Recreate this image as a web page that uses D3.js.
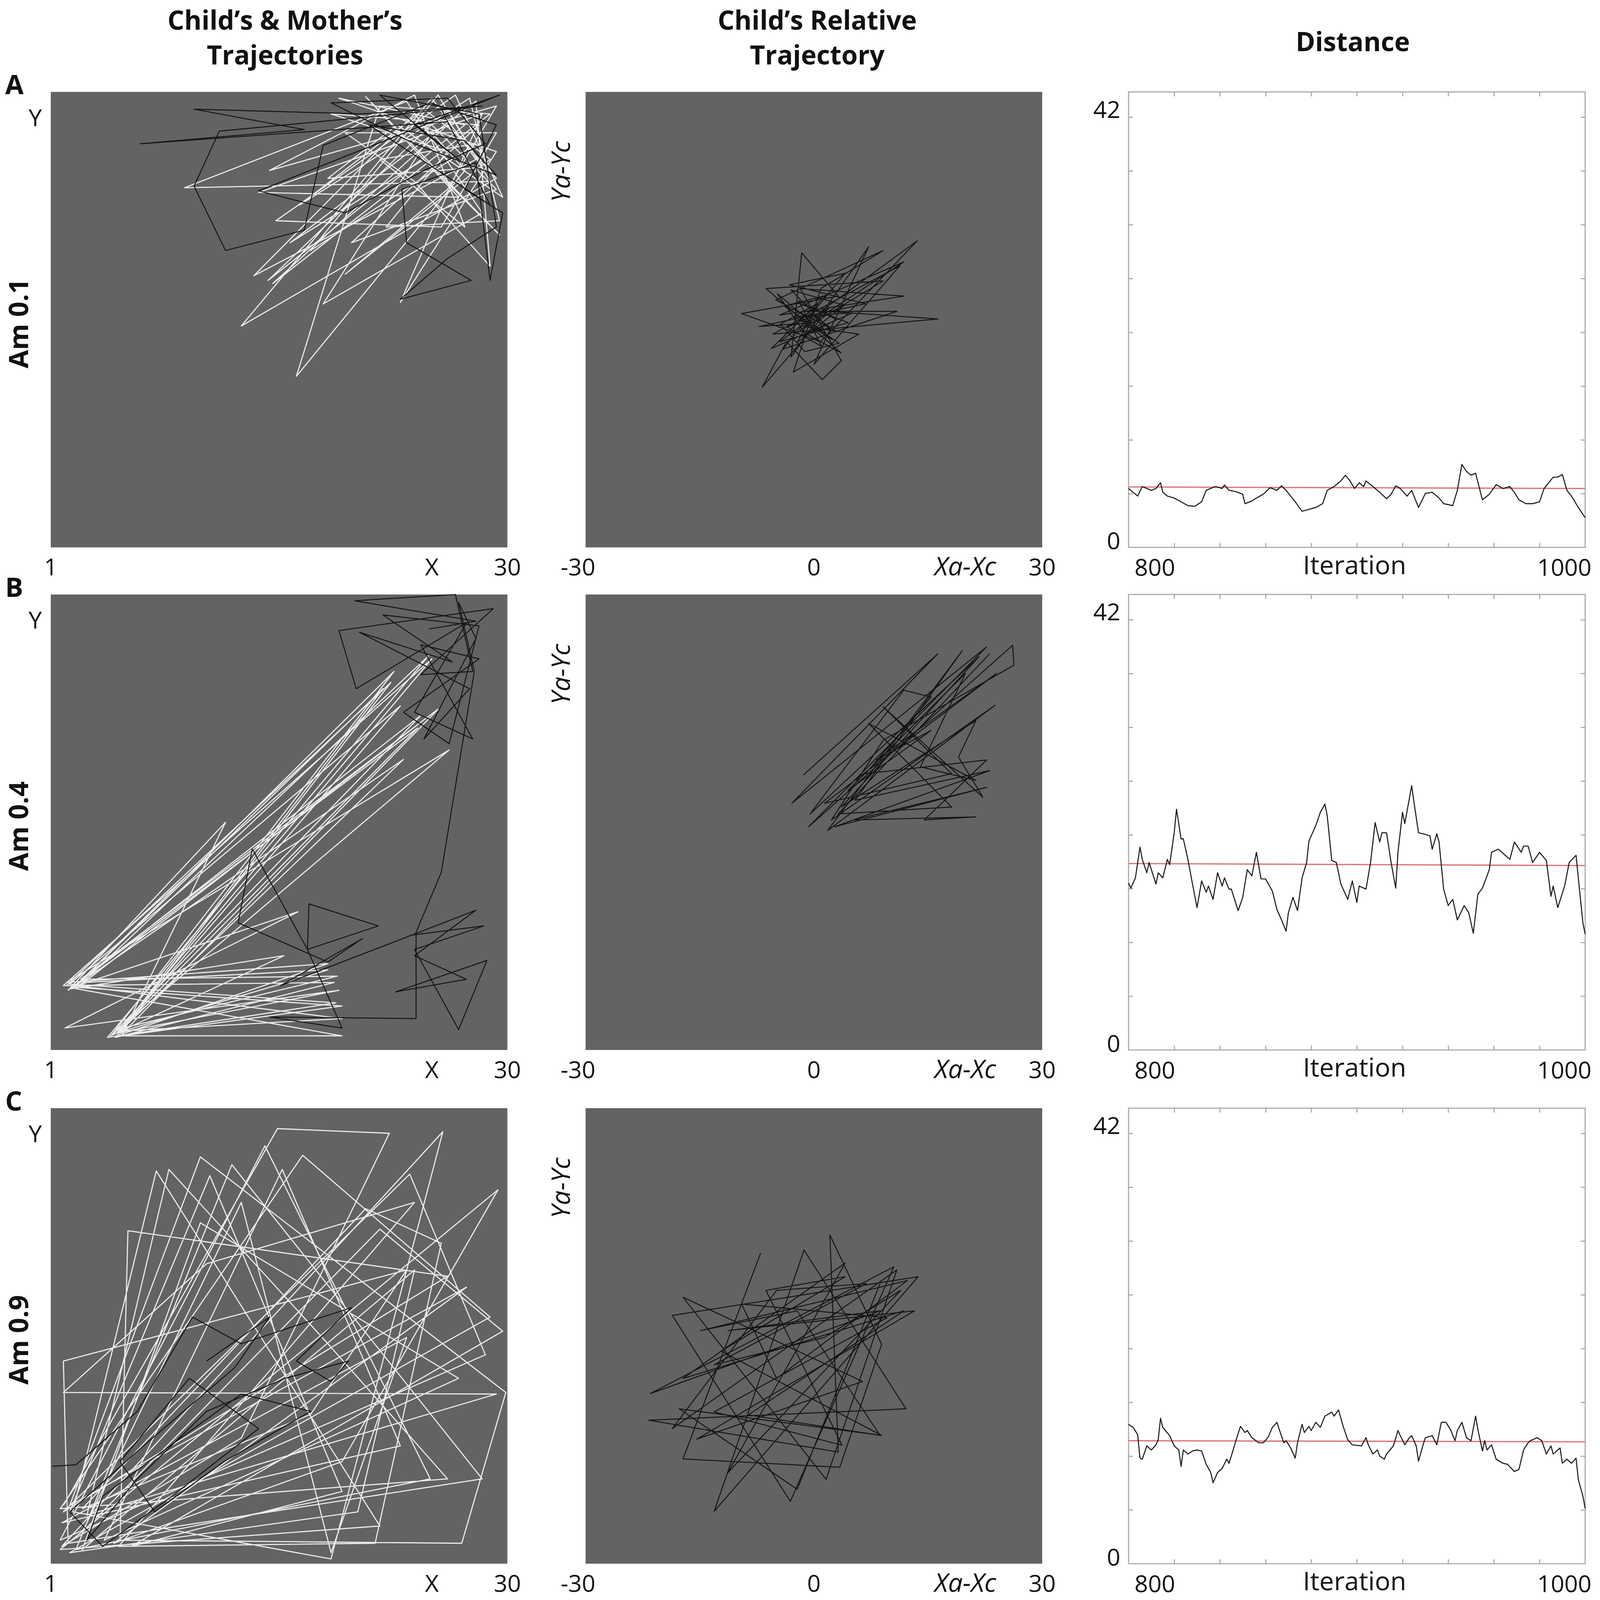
<!DOCTYPE html>
<html>
<head>
<meta charset="utf-8">
<script src="https://cdn.jsdelivr.net/npm/d3@7"></script>
<style>
  html, body { margin: 0; padding: 0; background: #fff; overflow: hidden; }
  svg { display: block; }
  text { font-family: "Open Sans", "DejaVu Sans", sans-serif; }
</style>
</head>
<body>
<svg id="fig"></svg>
<script>
// ---- labels ----
var colTitles = [["Child\u2019s & Mother\u2019s", "Trajectories"], ["Child\u2019s Relative", "Trajectory"], ["Distance"]];
var rowLetters = ["A", "B", "C"];
var amLabels = ["Am 0.1", "Am 0.4", "Am 0.9"];
var absTicks = [{v: 1, t: "1"}, {v: 25.2, t: "X"}, {v: 30, t: "30"}];
var relTicks = [{v: -31, t: "-30"}, {v: 0, t: "0"}, {v: 19.9, t: "Xa-Xc", it: true}, {v: 30, t: "30"}];
var distYTicks = [{v: 42, t: "42"}, {v: 0, t: "0"}];

// ---- mother (white) and child (black) trajectories, X/Y in 1..30 ----
var motherA = [[24.1,28.6],[13.9,18.3],[28.0,25.7],[25.2,29.6],[13.1,15.1],[29.3,24.5],[26.2,27.9],[15.1,17.8],[28.9,28.6],[21.9,29.1],[16.6,11.9],[27.3,25.0],[25.2,27.4],[18.3,16.5],[28.4,22.3],[23.6,29.4],[9.5,23.9],[28.9,24.3],[26.2,28.9],[14.8,18.0],[27.3,27.9],[19.3,29.6],[29.3,26.2],[23.2,16.6],[28.4,28.6],[14.2,23.6],[26.9,23.3],[21.0,29.7],[29.5,20.9],[24.7,25.7],[16.2,20.4],[28.0,29.4],[28.9,18.9],[24.1,24.3],[19.7,27.4],[29.3,27.4],[25.8,21.4],[15.3,21.8],[26.7,29.8],[29.7,23.3],[23.0,27.9],[18.6,24.5],[28.4,25.2],[25.6,29.8],[17.5,19.9],[28.0,26.7],[21.9,25.7],[27.3,21.4],[24.1,29.8],[14.9,25.0],[29.3,29.1],[26.2,23.8],[19.7,18.4],[28.9,25.7],[24.7,28.9],[16.8,22.8],[27.6,29.6],[29.5,21.8],[22.3,21.4],[26.2,26.2],[18.8,28.6],[28.2,27.9],[20.1,20.4],[29.3,23.8],[25.2,27.9]];
var childA = [[26.2,28.1],[6.7,26.7],[17.1,27.6],[10.1,28.9],[20.8,28.6],[28.4,29.1],[11.7,27.5],[10.1,24.0],[12.1,19.9],[17.1,21.2],[18.3,26.6],[25.1,29.3],[29.3,27.9],[27.3,23.8],[29.7,22.3],[28.9,18.0],[28.0,25.5],[23.3,23.8],[23.6,20.4],[27.7,18.0],[23.2,16.8],[26.2,19.4],[29.3,21.4],[28.2,28.6],[21.9,29.8],[26.9,25.7],[24.1,27.9],[29.5,29.8],[14.2,23.7],[19.7,22.3],[24.7,25.0],[28.6,26.7],[26.2,29.6],[18.8,29.3],[24.1,26.7],[29.3,24.7],[27.3,26.9],[21.2,27.9],[28.9,22.8],[25.8,28.9]];

var motherB = [[2.0,5.1],[22.6,24.4],[5.3,1.9],[19.5,1.9],[2.6,4.9],[25.0,26.1],[4.6,1.8],[19.1,4.0],[2.2,5.2],[23.2,22.9],[5.3,2.1],[19.3,4.8],[1.9,2.4],[16.7,9.8],[2.4,5.0],[24.5,22.3],[5.2,2.3],[19.2,5.7],[2.9,5.5],[25.6,22.7],[5.5,2.0],[18.6,6.5],[2.0,5.3],[26.3,20.1],[4.8,1.9],[15.8,7.0],[2.3,4.9],[23.4,19.5],[5.4,2.2],[19.5,3.0],[2.6,5.1],[22.1,24.0],[5.1,1.8],[19.0,5.3],[1.8,5.1],[25.2,25.9],[5.2,2.1],[24.3,21.5],[2.1,4.8],[12.1,15.5],[5.5,1.9],[19.5,3.8],[2.5,5.0],[22.8,25.1],[4.9,2.0],[18.6,6.1],[3.1,5.3],[24.8,22.1]];
var childB = [[25.0,27.8],[28.0,28.3],[20.3,29.6],[26.7,30.0],[27.8,25.1],[24.5,24.9],[29.1,29.1],[19.3,27.7],[20.4,24.0],[27.4,28.2],[24.1,22.5],[27.8,20.8],[24.5,26.8],[28.2,25.9],[23.4,22.5],[26.3,20.5],[28.2,28.0],[22.1,28.7],[26.5,25.7],[20.6,27.6],[27.6,24.0],[24.7,20.8],[28.0,27.2],[26.9,29.5],[27.9,25.1],[25.8,12.3],[24.2,8.5],[24.2,3.0],[14.9,3.1],[19.5,2.4],[17.3,7.4],[17.4,10.3],[21.8,8.9],[17.3,7.4],[13.8,13.8],[12.9,9.1],[18.6,6.6],[20.8,8.1],[15.6,5.1],[23.9,8.3],[28.0,9.9],[24.1,7.0],[27.4,5.5],[22.9,4.7],[28.7,6.7],[26.9,2.3],[24.1,7.4],[28.5,8.9],[23.8,8.3]];

var motherC = [[1.8,4.7],[15.4,28.7],[22.5,28.4],[13.1,9.0],[1.7,2.1],[25.9,28.5],[18.8,1.3],[2.4,4.3],[7.7,26.0],[21.9,3.4],[1.6,1.9],[29.4,24.8],[19.5,7.5],[5.0,2.3],[27.4,18.6],[2.2,4.7],[10.5,26.9],[29.9,11.9],[27.1,2.3],[5.4,2.5],[5.9,22.2],[26.2,19.3],[1.8,4.3],[23.8,25.8],[28.6,14.3],[1.6,2.5],[14.6,27.6],[25.1,6.4],[2.6,1.9],[12.5,26.4],[28.4,6.4],[2.1,2.3],[1.8,13.9],[23.6,19.7],[17.5,10.5],[3.0,4.5],[21.0,23.6],[25.8,21.4],[21.6,2.3],[5.3,2.1],[24.1,24.0],[10.9,20.1],[1.8,11.9],[29.3,11.8],[3.3,4.1],[8.5,26.1],[18.6,15.0],[26.2,6.4],[1.6,4.5],[17.0,27.0],[28.9,16.7],[2.2,1.7],[20.5,4.3],[24.1,19.7],[3.0,1.9],[10.5,22.7],[26.9,12.8],[4.4,2.5],[15.7,26.1],[23.2,8.5],[1.7,3.6],[23.6,15.4],[18.8,1.7],[13.1,24.0],[3.0,3.0],[21.9,22.3],[29.7,15.8],[6.1,2.1],[19.5,5.6],[11.1,25.7],[2.2,4.3]];
var childC = [[1.1,7.2],[2.6,7.3],[6.5,10.7],[10.0,16.7],[13.1,15.0],[17.0,16.3],[20.1,17.3],[16.6,13.9],[18.8,12.6],[19.9,13.9],[15.9,12.8],[10.9,10.7],[6.5,6.4],[3.3,2.5],[4.3,5.3],[8.7,8.6],[13.1,11.8],[17.5,10.7],[12.0,7.5],[7.6,4.3],[5.4,7.5],[9.8,12.8],[14.2,9.6],[8.7,5.3],[4.3,2.1],[2.2,4.3],[7.0,8.6],[12.7,13.5],[14.9,16.7],[10.9,13.9]];

// ---- child relative trajectories, Xa-Xc / Ya-Yc in -30..30 ----
var relA = [[-1.8,2.1],[4.5,-0.4],[-4.5,-2.9],[13.6,10.4],[0.9,-2.9],[-9.5,0.8],[3.2,3.1],[-1.6,8.8],[-3.0,-4.9],[7.2,9.6],[0,-5.9],[11.3,7.1],[-5.4,-1.9],[16.3,0.1],[1.8,1.1],[-6.8,-8.9],[-3.6,-2.9],[1.1,-7.9],[3.6,-5.4],[-1.8,4.1],[11.8,3.1],[-4.5,0.6],[11.8,7.6],[-1.8,-1.4],[3.6,-4.4],[-6.3,4.1],[9.1,5.1],[0,-0.4],[-7.2,-0.9],[6.8,2.1],[-3.2,4.6],[4.1,6.1],[-4.1,-3.9],[10.9,1.1],[-0.9,1.1],[2.7,-1.4],[-5.0,2.6],[9.1,9.1],[0.9,4.1],[-2.7,-6.9],[5.9,-1.9],[-1.4,-0.9],[2.0,1.5],[-3.5,-1.0],[1.0,-3.5],[-2.0,2.5],[3.0,0.0],[-1.0,-2.0],[-4.8,3.4],[2.4,-2.6],[-2.6,0.4],[5.1,0.9],[-5.6,-3.8],[1.6,3.2],[-3.9,1.8],[3.3,-3.1],[-1.2,-4.2],[-4.4,-0.6],[0.6,2.2],[-2.2,-3.0],[4.0,1.9],[-3.0,3.9],[1.8,-1.0]];
var relB = [[-1.4,6.2],[16.3,22.2],[-2.9,2.5],[22.7,23.1],[-0.7,-0.6],[26.1,23.3],[26.3,20.7],[9.1,10.8],[2.3,0.3],[23.8,15.4],[1.8,-1.1],[19.5,22.6],[5.4,2.9],[23.1,6.8],[2.7,-0.6],[22.7,4.6],[5.2,0.3],[21.3,0.7],[14.5,0.3],[22.7,8.2],[6.8,6.4],[15.4,16.5],[11.8,17.4],[-0.5,1.1],[21.7,21.8],[3.6,2.0],[21.3,13.4],[19.0,8.6],[22.2,3.3],[9.1,15.2],[18.1,6.4],[1.4,2.5],[24.0,19.6],[8.2,8.2],[15.4,12.1],[4.5,4.2],[19.9,19.6],[14.0,7.3],[21.3,5.5],[7.2,13.0],[18.1,2.0],[3.2,1.1],[23.1,22.2]];
var relC = [[-7.0,10.9],[-17.2,-16.2],[3.4,-17.3],[8.9,-1.1],[2.1,13.3],[3.2,-15.3],[-21.7,-11.1],[12.1,-9.6],[-1.3,11.3],[-13.1,-23.1],[13.7,7.8],[-18.6,2.7],[-3.1,-21.8],[10.5,9.1],[-21.5,-7.6],[8.7,3.3],[-11.3,0.7],[13.2,3.3],[-15.4,-13.6],[6.4,-6.0],[-17.2,5.1],[1.6,-18.9],[10.9,8.7],[-18.6,-12.2],[-4.9,6.0],[6.9,6.9],[-13.1,-3.8],[1.4,-0.2],[11.4,6.0],[-11.3,-18.0],[4.1,9.6],[-17.2,-5.6],[11.8,3.3],[-8.6,-10.4],[8.7,-13.1],[-2.2,3.3],[-14.9,0.7],[12.3,7.3],[-4.9,-5.6],[-9.5,4.2],[9.6,2.4],[-13.1,-10.0],[3.7,-14.4],[-6.3,6.0],[4.1,7.8],[-12.2,-2.0],[8.9,-13.1],[-17.7,-9.6],[-2.2,-20.2],[8.7,6.9]];

// ---- distance over iterations 800..1000 ----
var distA = [[800,5.75],[802,5.38],[804,5.01],[806,5.94],[808,5.75],[810,5.57],[812,5.75],[814,6.31],[815,5.38],[817,5.01],[820,4.82],[823,4.45],[826,4.08],[829,4.01],[832,4.45],[834,5.57],[838,5.94],[841,5.75],[842,6.09],[844,5.57],[847,5.45],[850,5.19],[851,4.27],[854,4.53],[856,4.82],[859,5.19],[862,5.83],[865,5.57],[867,6.01],[869,5.57],[873,4.45],[876,3.53],[879,3.71],[882,3.90],[885,4.27],[887,5.57],[890,5.94],[893,6.49],[895,7.05],[897,6.49],[899,5.75],[901,6.31],[903,5.94],[904,6.49],[907,5.94],[910,5.38],[913,4.75],[915,5.19],[917,6.01],[919,5.75],[922,5.01],[924,5.57],[927,3.90],[930,5.27],[933,5.38],[936,4.82],[938,4.27],[942,4.08],[944,5.57],[946,8.09],[948,7.42],[950,7.05],[952,7.24],[955,4.64],[958,5.19],[961,6.12],[964,5.75],[967,5.94],[969,5.38],[971,4.64],[974,4.27],[977,4.27],[980,4.45],[982,5.75],[986,6.86],[988,6.86],[990,7.12],[992,5.57],[994,5.01],[997,3.90],[1000,2.89]];
var distB = [[800,16.3],[801,15.8],[803,16.8],[805,19.8],[806,18.6],[808,17.3],[809,18.3],[812,16.2],[813,17.3],[815,16.8],[817,18.6],[818,18.1],[820,21.2],[821,23.5],[823,20.6],[824,20.6],[826,18.6],[828,16.2],[830,13.9],[832,16.5],[834,15.4],[835,16.0],[837,14.7],[839,17.3],[841,16.0],[842,16.8],[844,15.7],[845,15.7],[848,13.6],[850,14.9],[852,17.6],[854,17.0],[856,19.3],[858,16.7],[860,16.7],[863,15.5],[865,13.7],[867,12.7],[869,11.6],[870,13.4],[872,14.9],[874,13.6],[876,16.8],[878,18.3],[879,20.4],[882,21.9],[884,23.2],[886,24.0],[887,22.9],[889,18.5],[891,18.3],[893,16.2],[896,14.7],[898,16.5],[900,14.4],[901,16.0],[904,15.7],[906,18.3],[908,22.2],[910,20.3],[911,21.2],[913,21.2],[915,18.3],[917,15.8],[918,19.3],[920,23.2],[921,22.1],[924,25.8],[925,24.2],[927,21.2],[929,21.1],[932,20.9],[933,19.6],[935,21.1],[936,20.3],[938,15.7],[940,14.1],[942,14.7],[944,12.7],[947,14.1],[949,13.4],[951,11.4],[953,15.2],[955,15.8],[958,17.6],[959,19.3],[962,19.6],[965,19.0],[967,18.6],[969,20.3],[972,19.3],[973,19.9],[975,19.9],[977,18.3],[980,19.3],[983,18.5],[985,15.0],[986,16.0],[988,13.9],[991,16.0],[993,18.3],[996,19.0],[997,16.8],[999,12.4],[1000,11.3]];
var distC = [[800,13.6],[802,13.3],[804,12.6],[805,10.3],[806,10.2],[808,11.5],[810,11.1],[812,11.6],[813,12.1],[814,14.2],[815,13.3],[818,12.5],[820,11.5],[822,11.1],[823,9.5],[824,11.1],[826,10.7],[828,11.0],[830,11.1],[832,11.0],[834,9.7],[836,8.9],[837,7.9],[839,8.9],[841,9.3],[843,10.2],[844,9.8],[845,10.5],[847,12.0],[849,13.4],[851,12.8],[852,13.0],[854,12.3],[857,11.8],[859,11.8],[861,12.3],[863,13.3],[865,13.8],[866,13.1],[868,11.8],[869,12.0],[871,11.3],[873,10.3],[874,11.8],[876,13.6],[877,12.8],[879,13.4],[880,13.0],[882,13.8],[884,13.3],[886,14.4],[889,14.8],[890,14.4],[892,15.0],[894,13.4],[896,12.1],[898,11.6],[902,11.5],[904,12.3],[905,11.6],[907,10.7],[909,11.1],[910,10.5],[912,10.2],[913,10.7],[916,11.5],[918,13.0],[919,12.5],[921,11.6],[923,12.3],[924,12.5],[926,11.5],[927,10.0],[929,11.6],[930,12.3],[933,12.5],[935,11.6],[937,13.8],[939,13.8],[941,13.1],[943,12.0],[944,13.0],[946,13.8],[948,12.3],[950,12.0],[952,14.4],[953,13.1],[955,11.0],[956,12.0],[957,11.1],[959,11.6],[961,10.2],[964,9.8],[966,9.7],[969,9.0],[971,9.2],[973,11.1],[975,11.8],[976,12.0],[979,12.3],[981,12.0],[983,10.7],[985,11.5],[986,10.7],[989,11.3],[990,9.8],[992,10.2],[994,9.8],[996,10.3],[997,8.2],[999,6.6],[1000,5.4]];
var meanA = [[800,5.9],[1000,5.75]];
var meanB = [[800,18.2],[1000,18.0]];
var meanC = [[800,12.0],[1000,11.9]];

var rows = [
  {mother: motherA, child: childA, rel: relA, dist: distA, mean: meanA},
  {mother: motherB, child: childB, rel: relB, dist: distB, mean: meanB},
  {mother: motherC, child: childC, rel: relC, dist: distC, mean: meanC}
];

// ---- layout (in reference pixels, scaled to the window by the viewBox) ----
var W = 4317, H = 4317;
var rowTop = [248, 1604, 2990], panelH = 1229;
var colLeft = [137, 1580, 3045], panelW = 1232;
var panelGray = "#636363";

var svg = d3.select("#fig")
    .attr("viewBox", "0 0 " + W + " " + H)
    .attr("preserveAspectRatio", "xMinYMin meet")
    .style("width", "100vw")
    .style("height", "100vh");
svg.append("rect").attr("width", W).attr("height", H).attr("fill", "#fff");

// column titles
colTitles.forEach(function(lines, i){
  var cx = [769, 2205, 3650][i];
  var t = svg.append("text").attr("x", cx).attr("text-anchor", "middle")
    .attr("font-size", 71).attr("font-weight", "bold").attr("fill", "#111");
  if(lines.length == 2){
    t.append("tspan").attr("x", cx).attr("y", 80).text(lines[0]);
    t.append("tspan").attr("x", cx).attr("y", 174).text(lines[1]);
  }
  else
    t.attr("y", 138).text(lines[0]);
});

function trajline(x, y){
  return d3.line().x(function(d){ return x(d[0]); }).y(function(d){ return y(d[1]); });
}

function drawabs(r, d){
  var g = svg.append("g").attr("transform", "translate(" + colLeft[0] + "," + rowTop[r] + ")");
  var x = d3.scaleLinear().domain([1, 30]).range([0, panelW]);
  var y = d3.scaleLinear().domain([1, 30]).range([panelH, 0]);
  g.append("rect").attr("width", panelW).attr("height", panelH).attr("fill", panelGray);
  g.append("path").datum(d.mother).attr("d", trajline(x, y))
    .attr("fill", "none").attr("stroke", "#ececec").attr("stroke-width", 3).attr("stroke-linejoin", "round");
  g.append("path").datum(d.child).attr("d", trajline(x, y))
    .attr("fill", "none").attr("stroke", "#141414").attr("stroke-width", 2.6).attr("stroke-linejoin", "round");
  // axis labels
  absTicks.forEach(function(tk){
    g.append("text").attr("x", x(tk.v)).attr("y", panelH + 76).attr("text-anchor", "middle")
      .attr("font-size", 64).attr("fill", "#111").text(tk.t);
  });
  g.append("text").attr("x", 95 - colLeft[0]).attr("y", 92).attr("text-anchor", "middle")
    .attr("font-size", 64).attr("fill", "#111").text("Y");
}

function drawrel(r, d){
  var g = svg.append("g").attr("transform", "translate(" + colLeft[1] + "," + rowTop[r] + ")");
  var x = d3.scaleLinear().domain([-30, 30]).range([0, panelW]);
  var y = d3.scaleLinear().domain([-30, 30]).range([panelH, 0]);
  g.append("rect").attr("width", panelW).attr("height", panelH).attr("fill", panelGray);
  g.append("path").datum(d.rel).attr("d", trajline(x, y))
    .attr("fill", "none").attr("stroke", "#141414").attr("stroke-width", 2.6).attr("stroke-linejoin", "round");
  relTicks.forEach(function(tk){
    g.append("text").attr("x", x(tk.v)).attr("y", panelH + 76).attr("text-anchor", "middle")
      .attr("font-size", tk.it ? 70 : 64).attr("font-style", tk.it ? "italic" : "normal")
      .attr("fill", "#111").text(tk.t);
  });
  g.append("text").attr("transform", "translate(" + (1538 - colLeft[1]) + "," + 215 + ") rotate(-90)")
    .attr("text-anchor", "middle").attr("font-size", 70).attr("font-style", "italic")
    .attr("fill", "#111").text("Ya-Yc");
}

function styleaxis(sel){
  sel.select(".domain").remove();
  sel.selectAll(".tick line").attr("stroke", "#a8a8a8").attr("stroke-width", 3);
}

function drawdist(r, d){
  var g = svg.append("g").attr("transform", "translate(" + colLeft[2] + "," + rowTop[r] + ")");
  var x = d3.scaleLinear().domain([800, 1000]).range([0, panelW]);
  var y = d3.scaleLinear().domain([0, 44.46]).range([panelH, 0]);
  var xt = d3.range(820, 1000, 20), yt = d3.range(1, 9).map(function(k){ return k * 5.25; });
  g.append("rect").attr("width", panelW).attr("height", panelH).attr("fill", "#fff");
  g.append("g").attr("transform", "translate(0," + panelH + ")")
    .call(d3.axisBottom(x).tickValues(xt).tickSize(-12).tickFormat("")).call(styleaxis);
  g.append("g").call(d3.axisTop(x).tickValues(xt).tickSize(-12).tickFormat("")).call(styleaxis);
  g.append("g").call(d3.axisLeft(y).tickValues(yt).tickSize(-12).tickFormat("")).call(styleaxis);
  g.append("g").attr("transform", "translate(" + panelW + ",0)")
    .call(d3.axisRight(y).tickValues(yt).tickSize(-12).tickFormat("")).call(styleaxis);
  g.append("rect").attr("width", panelW).attr("height", panelH)
    .attr("fill", "none").attr("stroke", "#a8a8a8").attr("stroke-width", 3);
  g.append("path").datum(d.mean).attr("d", trajline(x, y))
    .attr("fill", "none").attr("stroke", "#d9787a").attr("stroke-width", 3.5);
  g.append("path").datum(d.dist).attr("d", trajline(x, y))
    .attr("fill", "none").attr("stroke", "#1a1a1a").attr("stroke-width", 2.8).attr("stroke-linejoin", "round");
  // labels
  distYTicks.forEach(function(tk){
    g.append("text").attr("x", -22).attr("y", y(tk.v) + (tk.v == 0 ? 5 : 2)).attr("text-anchor", "end")
      .attr("font-size", 64).attr("fill", "#111").text(tk.t);
  });
  g.append("text").attr("x", x(800) + 16).attr("y", panelH + 77).attr("text-anchor", "start")
    .attr("font-size", 64).attr("fill", "#111").text("800");
  g.append("text").attr("x", x(899)).attr("y", panelH + 72).attr("text-anchor", "middle")
    .attr("font-size", 70).attr("fill", "#111").text("Iteration");
  g.append("text").attr("x", x(1000) + 17).attr("y", panelH + 77).attr("text-anchor", "end")
    .attr("font-size", 64).attr("fill", "#111").text("1000");
}

rows.forEach(function(d, r){
  drawabs(r, d);
  drawrel(r, d);
  drawdist(r, d);
  // row letter and amplitude label
  svg.append("text").attr("x", 14).attr("y", rowTop[r] + 6).attr("font-size", 72)
    .attr("font-weight", "bold").attr("fill", "#111").text(rowLetters[r]);
  svg.append("text").attr("transform", "translate(76," + (rowTop[r] + 625) + ") rotate(-90)")
    .attr("text-anchor", "middle").attr("font-size", 72).attr("font-weight", "bold")
    .attr("fill", "#111").text(amLabels[r]);
});
</script>
</body>
</html>
